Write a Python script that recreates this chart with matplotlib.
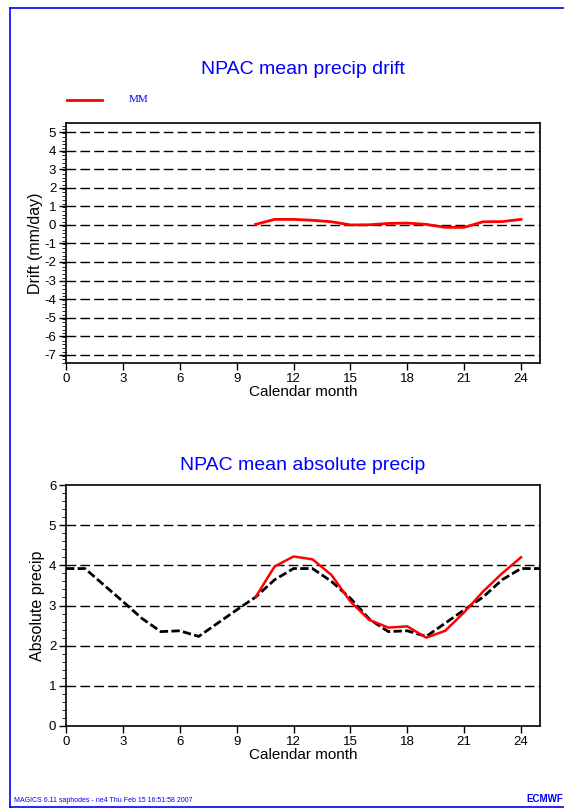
import numpy as np
import matplotlib.pyplot as plt
from matplotlib.lines import Line2D

# climatology (black dashed), months 0..25
clim_months = list(range(0, 26))
clim_precip = [3.92, 3.92, 3.51, 3.10, 2.68, 2.35, 2.37, 2.23, 2.56, 2.89, 3.21, 3.64, 3.92,
               3.92, 3.60, 3.18, 2.66, 2.35, 2.37, 2.23, 2.56, 2.89, 3.21, 3.64, 3.92, 3.92]

# model run (red), months 10..24
mm_months = list(range(10, 25))
mm_precip = [3.21, 3.97, 4.22, 4.15, 3.76, 3.10, 2.64, 2.45, 2.48, 2.20, 2.37, 2.83, 3.35, 3.80, 4.20]
mm_drift = [0.03, 0.30, 0.30, 0.25, 0.17, 0.00, 0.01, 0.08, 0.10, 0.03, -0.13, -0.13, 0.17, 0.18, 0.30]

xticks = [0, 3, 6, 9, 12, 15, 18, 21, 24]

plt.rcParams['font.family'] = ['Liberation Sans', 'DejaVu Sans']
plt.rcParams['axes.unicode_minus'] = False

W, H = 564, 810
fig = plt.figure(figsize=(W / 100, H / 100), dpi=100)

def fx(px):
    return px / W

def fy(py):
    return 1 - py / H

def style_axes(ax, ylim, yticks):
    ax.set_xlim(0, 25)
    ax.set_ylim(*ylim)
    ax.set_xticks(xticks)
    ax.set_yticks(yticks)
    ax.set_yticks(np.arange(ylim[0], ylim[1] + 0.001, 0.2), minor=True)
    ax.tick_params(axis='both', direction='out', labelsize=9.5, width=1, colors='black', pad=2)
    ax.tick_params(axis='y', which='major', length=5)
    ax.tick_params(axis='y', which='minor', length=3)
    ax.tick_params(axis='x', which='major', length=5)
    for y in yticks:
        if ylim[0] < y < ylim[1]:
            ax.axhline(y, color='black', lw=1, ls=(0, (7, 3)), zorder=1)
    for s in ax.spines.values():
        s.set_linewidth(1.2)

# top panel: drift
ax1 = fig.add_axes([fx(66), fy(363), fx(540) - fx(66), fy(123) - fy(363)])
style_axes(ax1, (-7.45, 5.5), list(range(-7, 6)))
ax1.plot(mm_months, mm_drift, color='red', lw=2, zorder=3)
ax1.set_xlabel('Calendar month', fontsize=11, labelpad=0)
ax1.set_ylabel('Drift (mm/day)', fontsize=11.5, labelpad=1)

# bottom panel: absolute precip
ax2 = fig.add_axes([fx(66), fy(726), fx(540) - fx(66), fy(485) - fy(726)])
style_axes(ax2, (0, 6), list(range(0, 7)))
ax2.plot(clim_months, clim_precip, color='black', lw=2, ls=(0, (3, 1.2)), zorder=2)
ax2.plot(mm_months, mm_precip, color='red', lw=1.8, zorder=3)
ax2.set_xlabel('Calendar month', fontsize=11, labelpad=0)
ax2.set_ylabel('Absolute precip', fontsize=11.5, labelpad=3)

# titles
fig.text(fx(303), fy(70), 'NPAC mean precip drift', color='blue', fontsize=14,
         ha='center', va='center')
fig.text(fx(303), fy(465), 'NPAC mean absolute precip', color='blue', fontsize=14,
         ha='center', va='center')

# legend
fig.add_artist(Line2D([fx(67), fx(102)], [fy(100), fy(100)], color='red', lw=2))
fig.text(fx(129), fy(100), 'MM', color='blue', fontsize=8, family='Liberation Serif',
         ha='left', va='center')

# frame and footer
fig.add_artist(Line2D([fx(10), fx(10)], [fy(8), fy(807)], color='blue', lw=1.2))
fig.add_artist(Line2D([fx(10), 1], [fy(8), fy(8)], color='blue', lw=1.2))
fig.add_artist(Line2D([fx(10), 1], [fy(807), fy(807)], color='blue', lw=1.2))
fig.text(fx(14), fy(800), 'MAGICS 6.11 saphodes - ne4 Thu Feb 15 16:51:58 2007', color='blue',
         fontsize=5, ha='left', va='center')
fig.text(fx(563), fy(799), 'ECMWF', color='blue', fontsize=7, fontweight='bold',
         ha='right', va='center')

fig.savefig('out.png', dpi=100)
